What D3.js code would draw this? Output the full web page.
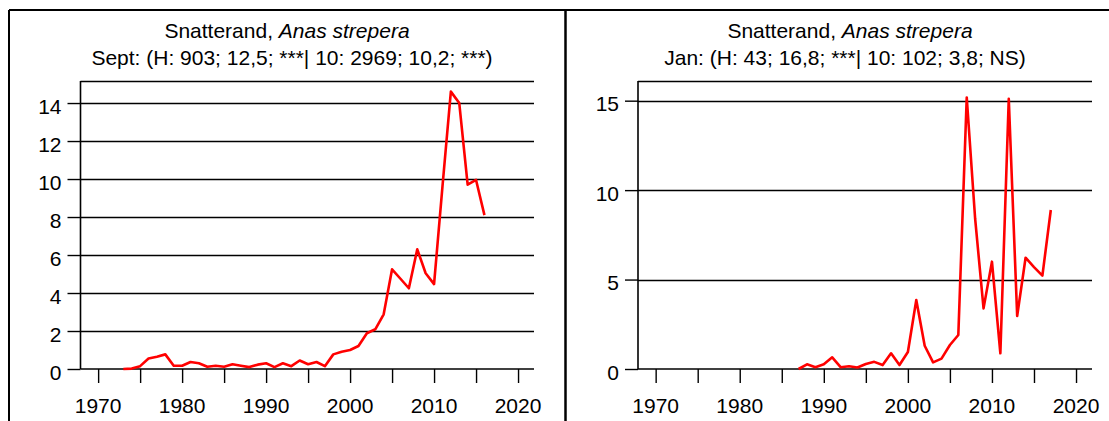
<!DOCTYPE html>
<html>
<head>
<meta charset="utf-8">
<script src="https://cdn.jsdelivr.net/npm/d3@7"></script>
<style>
  body { margin: 0; background: #fff; }
  text { font-family: "Liberation Sans", Arial, sans-serif; font-size: 21px; fill: #000; }
</style>
</head>
<body>
<svg id="chart" width="1109" height="421"></svg>
<script>
// Sept counts (index), left panel
const septYears = [1973, 1974, 1975, 1976, 1977, 1978, 1979, 1980, 1981, 1982, 1983, 1984, 1985, 1986, 1987, 1988, 1989, 1990, 1991, 1992, 1993, 1994, 1995, 1996, 1997, 1998, 1999, 2000, 2001, 2002, 2003, 2004, 2005, 2006, 2007, 2008, 2009, 2010, 2011, 2012, 2013, 2014, 2015, 2016];
const septValues = [0, 0.02, 0.15, 0.55, 0.65, 0.77, 0.17, 0.17, 0.37, 0.30, 0.12, 0.17, 0.12, 0.25, 0.17, 0.10, 0.23, 0.30, 0.10, 0.30, 0.15, 0.45, 0.25, 0.37, 0.15, 0.77, 0.91, 1.0, 1.21, 1.88, 2.09, 2.88, 5.25, 4.75, 4.25, 6.3, 5.04, 4.47, 9.6, 14.6, 14.0, 9.7, 9.95, 8.1];

// Jan counts (index), right panel
const janYears = [1987, 1988, 1989, 1990, 1991, 1992, 1993, 1994, 1995, 1996, 1997, 1998, 1999, 2000, 2001, 2002, 2003, 2004, 2005, 2006, 2007, 2008, 2009, 2010, 2011, 2012, 2013, 2014, 2015, 2016, 2017];
const janValues = [0, 0.26, 0.1, 0.26, 0.65, 0.1, 0.15, 0.08, 0.28, 0.4, 0.22, 0.88, 0.22, 0.95, 3.86, 1.3, 0.37, 0.58, 1.34, 1.9, 15.18, 8.4, 3.39, 6.0, 0.88, 15.1, 2.96, 6.22, 5.7, 5.22, 8.89];

const xTicks = [1970, 1975, 1980, 1985, 1990, 1995, 2000, 2005, 2010, 2015, 2020];
const xLabels = [1970, 1980, 1990, 2000, 2010, 2020];
const septYTicks = [0, 2, 4, 6, 8, 10, 12, 14];
const janYTicks = [0, 5, 10, 15];

const titleSpecies = ["Snatterand, ", "Anas strepera"];
const septSubtitle = "Sept: (H: 903; 12,5; ***| 10: 2969; 10,2; ***)";
const janSubtitle = "Jan: (H: 43; 16,8; ***| 10: 102; 3,8; NS)";

const svg = d3.select("#chart");

// outer frame: top line, left line, divider
svg.append("line").attr("x1", 9).attr("x2", 1109).attr("y1", 10).attr("y2", 10)
  .attr("stroke", "#000").attr("stroke-width", 2);
svg.append("line").attr("x1", 9).attr("x2", 9).attr("y1", 10).attr("y2", 421)
  .attr("stroke", "#000").attr("stroke-width", 2);
svg.append("line").attr("x1", 565.5).attr("x2", 565.5).attr("y1", 10).attr("y2", 421)
  .attr("stroke", "#000").attr("stroke-width", 2.5);

function drawPanel(opts) {
  const g = svg.append("g");
  const x = d3.scaleLinear().domain([1967.9, 2021.9]).range([opts.left, opts.right]);
  const y = d3.scaleLinear().domain([0, opts.yMax]).range([369, 81]);

  // title
  const t = g.append("text").attr("x", opts.titleX).attr("y", 38).attr("text-anchor", "middle");
  t.append("tspan").text(titleSpecies[0]);
  t.append("tspan").style("font-style", "italic").text(titleSpecies[1]);
  g.append("text").attr("x", opts.subX).attr("y", 65).attr("text-anchor", "middle").text(opts.subtitle);

  // gridlines
  g.selectAll(".grid").data(opts.yTicks.filter(d => d > 0)).join("line")
    .attr("x1", opts.left).attr("x2", opts.right)
    .attr("y1", d => Math.round(y(d)) + 0.5).attr("y2", d => Math.round(y(d)) + 0.5)
    .attr("stroke", "#000").attr("stroke-width", 1.4);

  // top line of plot box
  g.append("line").attr("x1", opts.left).attr("x2", opts.right).attr("y1", 81.5).attr("y2", 81.5)
    .attr("stroke", "#000").attr("stroke-width", 1.4);

  // y axis
  const yAxis = g.append("g").attr("transform", `translate(${opts.left},0)`)
    .call(d3.axisLeft(y).tickValues(opts.yTicks).tickSize(13).tickPadding(6).tickFormat(d3.format("d")));
  yAxis.select(".domain").attr("d", `M0,81V${y(0)}`).attr("stroke", "#000").attr("stroke-width", 1.6);
  yAxis.selectAll(".tick line").attr("stroke", "#000").attr("stroke-width", 1.4);
  yAxis.selectAll(".tick text").attr("font-size", null).attr("font-family", null)
    .attr("dy", "0.48em");

  // x axis
  const xAxis = g.append("g").attr("transform", `translate(0,${y(0)})`)
    .call(d3.axisBottom(x).tickValues(xTicks).tickSize(14).tickFormat(""));
  xAxis.select(".domain").attr("d", `M${opts.left},0H${opts.right}`).attr("stroke", "#000").attr("stroke-width", 1.6);
  xAxis.selectAll(".tick line").attr("stroke", "#000").attr("stroke-width", 1.4);

  g.selectAll(".xlab").data(xLabels).join("text")
    .attr("x", d => x(d)).attr("y", 413).attr("text-anchor", "middle").text(d => d);

  // data line
  const pts = opts.years.map((yr, i) => [yr, opts.values[i]]);
  g.append("path").datum(pts)
    .attr("fill", "none").attr("stroke", "#ff0000").attr("stroke-width", 2.6)
    .attr("stroke-linejoin", "round")
    .attr("d", d3.line().x(d => x(d[0])).y(d => y(d[1])));
}

drawPanel({ left: 80.5, right: 534, yMax: 15.16, yTicks: septYTicks, years: septYears, values: septValues,
  subtitle: septSubtitle, titleX: 287, subX: 292 });
drawPanel({ left: 638, right: 1092, yMax: 16.1, yTicks: janYTicks, years: janYears, values: janValues,
  subtitle: janSubtitle, titleX: 850, subX: 845 });
</script>
</body>
</html>
